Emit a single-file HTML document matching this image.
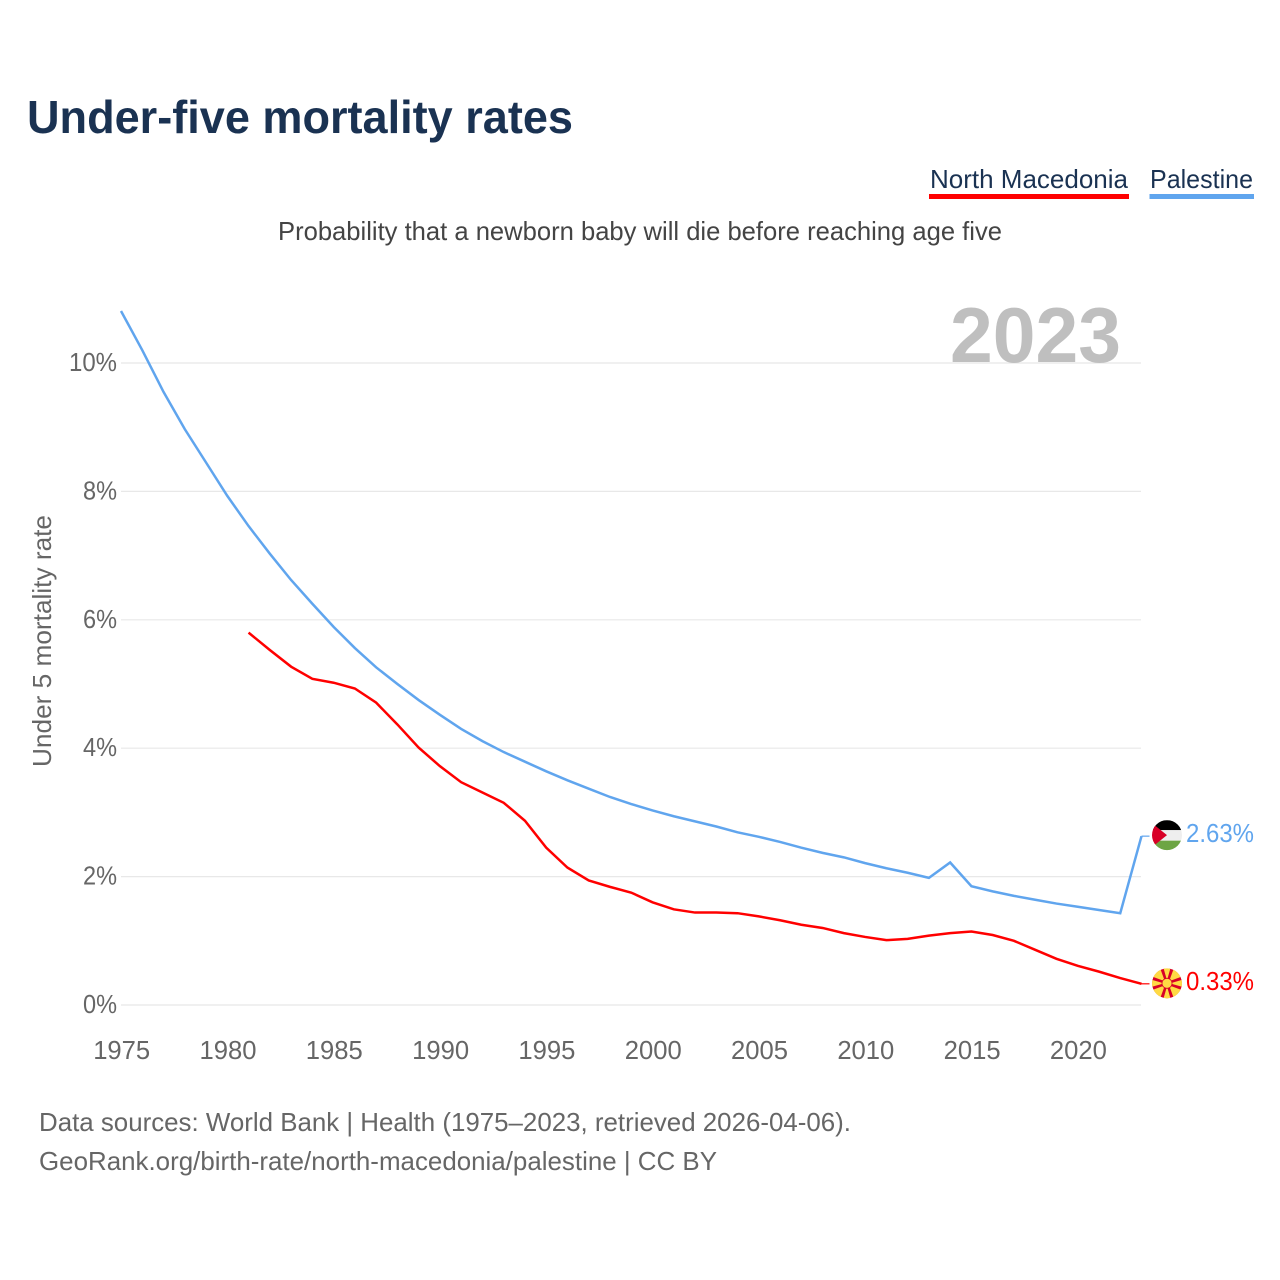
<!DOCTYPE html>
<html lang="en">
<head>
<meta charset="utf-8">
<title>Under-five mortality rates</title>
<style>
html,body{margin:0;padding:0;background:#fff;width:1280px;height:1280px;overflow:hidden}
svg{display:block}
text{font-family:"Liberation Sans",sans-serif}
</style>
</head>
<body>
<svg id="chart" width="1280" height="1280" viewBox="0 0 1280 1280" xmlns="http://www.w3.org/2000/svg">
  <defs>
    <clipPath id="clip-ps"><circle id="clip-ps-c" r="15"/></clipPath>
    <clipPath id="clip-mk"><circle id="clip-mk-c" r="15"/></clipPath>
  </defs>
  <text x="27" y="133" font-size="46" font-weight="700" fill="#1a3252" textLength="546" lengthAdjust="spacingAndGlyphs">Under-five mortality rates</text>
  <g>
    <text x="930" y="188" font-size="26" fill="#1a3252" textLength="198" lengthAdjust="spacingAndGlyphs">North Macedonia</text>
    <rect x="929" y="194" width="200" height="5" fill="#ff0000"/>
  </g>
  <g>
    <text x="1150" y="188" font-size="26" fill="#1a3252" textLength="103" lengthAdjust="spacingAndGlyphs">Palestine</text>
    <rect x="1149.5" y="194" width="104.5" height="5" fill="#60a5ee"/>
  </g>
  <text x="278" y="240" font-size="26" fill="#444" textLength="724" lengthAdjust="spacingAndGlyphs">Probability that a newborn baby will die before reaching age five</text>
  <g id="grid"></g>
  <text x="950" y="362" font-size="78" font-weight="700" fill="#bfbfbf" textLength="171" lengthAdjust="spacingAndGlyphs">2023</text>
  <g id="yticks"></g>
  <g id="xticks"></g>
  <text transform="translate(51 767) rotate(-90)" font-size="26" fill="#666" textLength="252" lengthAdjust="spacingAndGlyphs">Under 5 mortality rate</text>
  <g id="series"></g>
  <g id="flag-ps" clip-path="url(#clip-ps)"></g>
  <g id="flag-mk" clip-path="url(#clip-mk)"></g>
  <g id="end-labels"></g>
  <text x="39" y="1131" font-size="26" fill="#666" textLength="812" lengthAdjust="spacingAndGlyphs">Data sources: World Bank | Health (1975–2023, retrieved 2026-04-06).</text>
  <text x="39" y="1170" font-size="26" fill="#666" textLength="678" lengthAdjust="spacingAndGlyphs">GeoRank.org/birth-rate/north-macedonia/palestine | CC BY</text>
</svg>
<script>
const years = [1975,1976,1977,1978,1979,1980,1981,1982,1983,1984,1985,1986,1987,1988,1989,1990,1991,1992,1993,1994,1995,1996,1997,1998,1999,2000,2001,2002,2003,2004,2005,2006,2007,2008,2009,2010,2011,2012,2013,2014,2015,2016,2017,2018,2019,2020,2021,2022,2023];
const palestine = [10.81,10.2,9.55,8.97,8.45,7.93,7.46,7.03,6.62,6.25,5.89,5.56,5.26,5.0,4.75,4.52,4.3,4.11,3.94,3.79,3.64,3.5,3.37,3.24,3.13,3.03,2.94,2.86,2.78,2.69,2.62,2.54,2.45,2.37,2.3,2.21,2.13,2.06,1.98,2.22,1.85,1.77,1.7,1.64,1.58,1.53,1.48,1.43,2.63];
const northMacedonia = [null,null,null,null,null,null,5.8,5.53,5.27,5.08,5.02,4.93,4.71,4.37,4.01,3.72,3.47,3.31,3.15,2.87,2.45,2.14,1.94,1.84,1.75,1.6,1.49,1.44,1.44,1.43,1.38,1.32,1.25,1.2,1.12,1.06,1.01,1.03,1.08,1.12,1.145,1.09,1.0,.86,.72,.61,.52,.42,.33];
const yTickValues = [0,2,4,6,8,10];
const xTickYears = [1975,1980,1985,1990,1995,2000,2005,2010,2015,2020];

const NS = 'http://www.w3.org/2000/svg';
const xScale = function (year) { return 121 + (year - 1975) * (1141.5 - 121) / 48; };
const yScale = function (value) { return 1005 - value * 64.2; };

function make(tag, parent, attrs) {
  const el = document.createElementNS(NS, tag);
  for (const k in attrs) el.setAttribute(k, attrs[k]);
  parent.appendChild(el);
  return el;
}

const gridG = document.getElementById('grid');
const yG = document.getElementById('yticks');
yTickValues.forEach(function (v) {
  const line = make('line', gridG, {x1: 121, x2: 1141, y1: yScale(v), y2: yScale(v), stroke: '#e8e8e8', 'stroke-width': 1.2});
  
  
  const label = v + '%';
  const t = make('text', yG, {x: 117, y: yScale(v) + 8, 'text-anchor': 'end', 'font-size': 26, fill: '#666', textLength: label.length === 3 ? 48 : 34, lengthAdjust: 'spacingAndGlyphs'});
  
  
  t.textContent = label;
});

const xG = document.getElementById('xticks');
xTickYears.forEach(function (yr) {
  const t = make('text', xG, {x: xScale(yr) + 0.7, y: 1059, 'text-anchor': 'middle', 'font-size': 26, fill: '#666', textLength: 57, lengthAdjust: 'spacingAndGlyphs'});
  
  
  t.textContent = yr;
});

function lastValue(values) { return values[values.length - 1]; }

function drawSeries(values, color, name) {
  const g = document.getElementById('series');
  const pts = [];
  values.forEach(function (v, i) {
    if (v !== null) pts.push(xScale(years[i]).toFixed(2) + ',' + yScale(v).toFixed(2));
  });
  const line = make('polyline', g, {points: pts.join(' '), fill: 'none', stroke: color, 'stroke-width': 2.5, 'stroke-linejoin': 'miter'});
  
  
  const endX = xScale(years[years.length - 1]);
  const endY = yScale(lastValue(values));
  const lead = make('line', g, {x1: endX, x2: endX + 8, y1: endY, y2: endY, stroke: color, 'stroke-width': 1.2});
  
  
}
drawSeries(northMacedonia, '#ff0000', 'north-macedonia');
drawSeries(palestine, '#60a5ee', 'palestine');

const flagCx = 1167;
function drawLabel(values, color, name) {
  const g = document.getElementById('end-labels');
  const t = make('text', g, {x: 1186, y: yScale(lastValue(values)) + 6, 'font-size': 26, fill: color, textLength: 68, lengthAdjust: 'spacingAndGlyphs'});
  
  
  t.textContent = lastValue(values).toFixed(2) + '%';
}
drawLabel(northMacedonia, '#ff0000', 'north-macedonia');
drawLabel(palestine, '#60a5ee', 'palestine');

/* Palestine flag */
const psY = yScale(lastValue(palestine)) - 1;
const psClip = document.getElementById('clip-ps-c');
psClip.setAttribute('cx', flagCx);
psClip.setAttribute('cy', psY);
const psG = document.getElementById('flag-ps');
make('rect', psG, {x: flagCx - 15, y: psY - 15, width: 30, height: 10, fill: '#000'});
make('rect', psG, {x: flagCx - 15, y: psY - 5, width: 30, height: 10.5, fill: '#eeeeee'});
make('rect', psG, {x: flagCx - 15, y: psY + 5.5, width: 30, height: 10, fill: '#6da544'});
make('polygon', psG, {points: [(flagCx - 15) + ',' + (psY - 12) , (flagCx) + ',' + psY, (flagCx - 15) + ',' + (psY + 12)].join(' '), fill: '#d80027'});

/* North Macedonia flag */
const mkY = yScale(lastValue(northMacedonia)) - 0.5;
const mkClip = document.getElementById('clip-mk-c');
mkClip.setAttribute('cx', flagCx);
mkClip.setAttribute('cy', mkY);
const mkG = document.getElementById('flag-mk');
make('circle', mkG, {cx: flagCx, cy: mkY, r: 15, fill: '#d80027'});
[0, 45, 90, 135, 180, 225, 270, 315].forEach(function (deg) {
  const w = deg % 90 === 0 ? 4 : 6.5;
  make('polygon', mkG, {points: '0,-3 ' + (-w) + ',-17 ' + w + ',-17', fill: '#ffda44', transform: 'translate(' + flagCx + ' ' + mkY + ') rotate(' + deg + ')'});
});
make('circle', mkG, {cx: flagCx, cy: mkY, r: 5, fill: '#ffda44', stroke: '#d80027', 'stroke-width': 0.8});
</script>
</body>
</html>
